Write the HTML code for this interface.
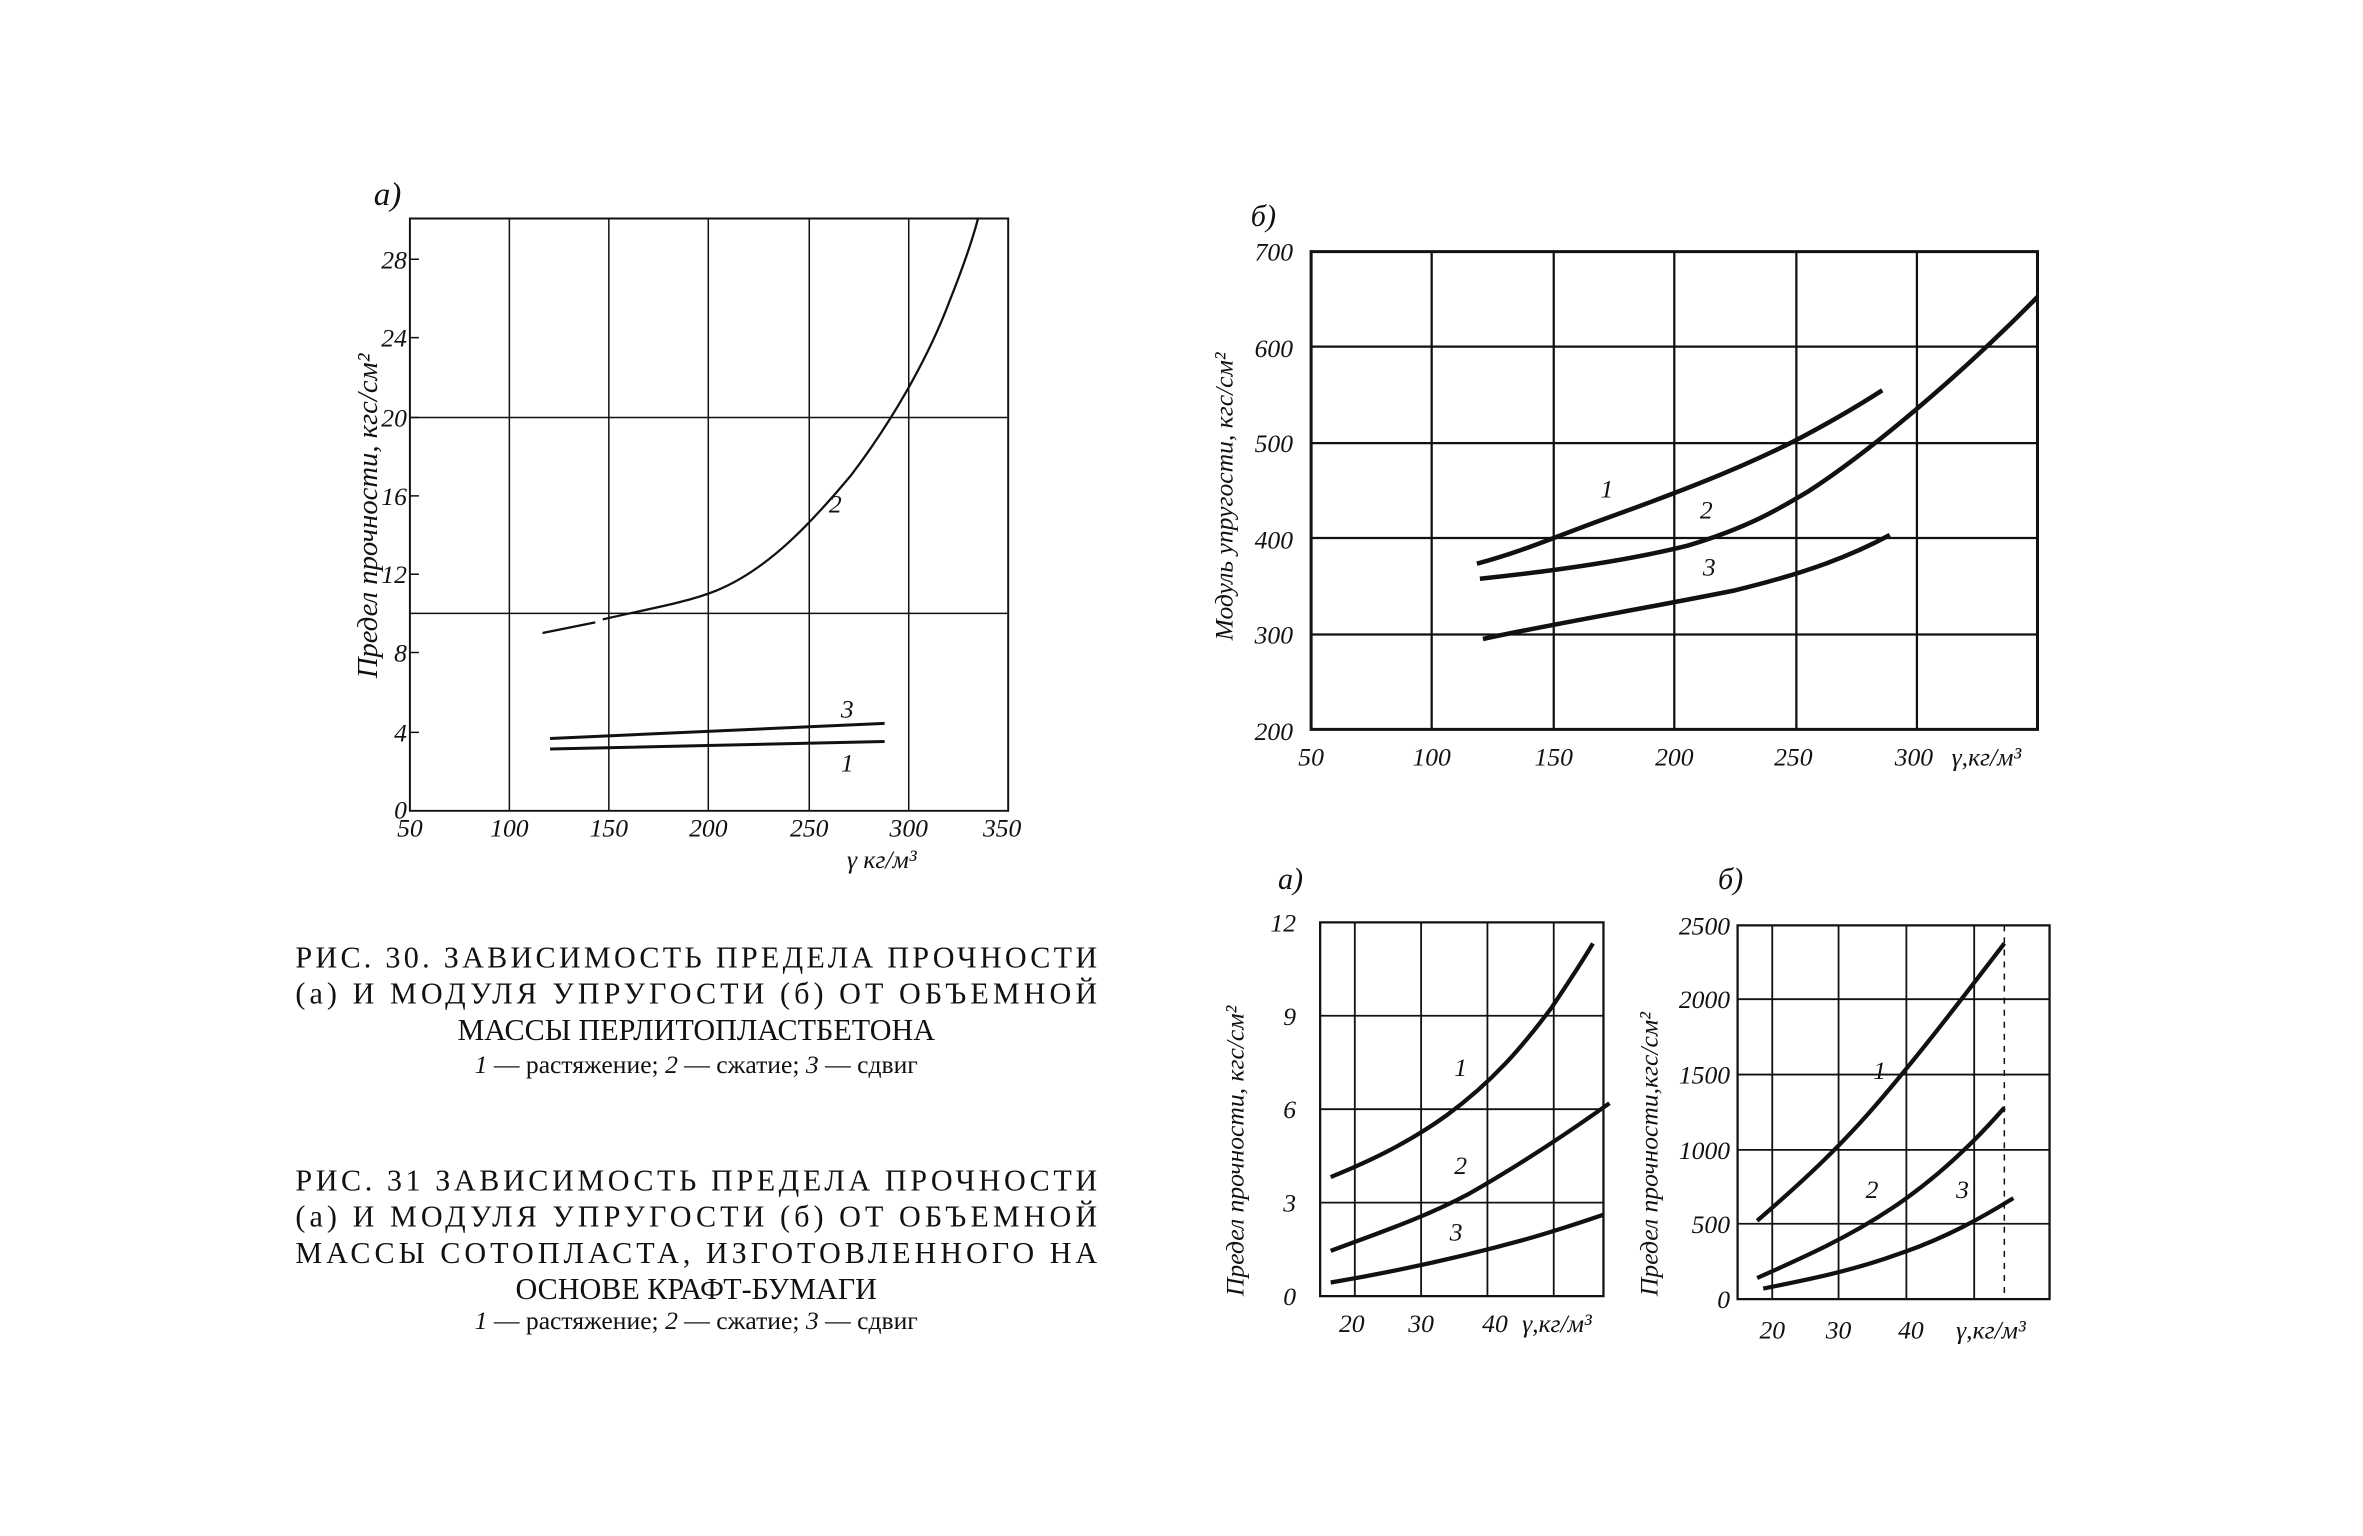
<!DOCTYPE html>
<html><head><meta charset="utf-8"><style>
html,body{margin:0;padding:0;background:#fff;}
svg{display:block}
text{font-family:"Liberation Serif",serif;fill:#111}
.i{font-style:italic;font-family:"Liberation Sans",sans-serif}
</style></head><body>
<svg width="2363" height="1536" viewBox="0 0 1568 1019.2" preserveAspectRatio="none" xmlns="http://www.w3.org/2000/svg">
<g stroke="#111" fill="none">
<path d="M272 145V538H669V145Z" stroke-width="1.3"/>
<path d="M338 145V538M404 145V538M470 145V538M537 145V538M603 145V538M272 277H669M272 407H669" stroke-width="1"/>
<path d="M272 172h6M272 224h6M272 277h6M272 329h6M272 381h6M272 433h6M272 486h6" stroke-width="1"/>
<path d="M360 420L395 413M400 411 C430 404 455 400 475 392 C510 378 540 345 565 315 C590 282 615 240 630 200 C640 175 645 160 649 145" stroke-width="1.5"/>
<path d="M365 490L587 480M365 497L587 492" stroke-width="2"/>
<path d="M870 167V484H1352V167Z" stroke-width="2"/>
<path d="M950 167V484M1031 167V484M1111 167V484M1192 167V484M1272 167V484M870 230H1352M870 294H1352M870 357H1352M870 421H1352" stroke-width="1.5"/>
<path d="M980 374 C1010 366 1030 357 1060 346 C1110 328 1150 313 1190 293 C1215 280 1235 268 1249 259" stroke-width="3"/>
<path d="M982 384 C1030 379 1080 372 1120 362 C1160 350 1180 338 1200 326 C1240 300 1300 250 1352 197" stroke-width="3"/>
<path d="M984 424 C1030 414 1090 404 1150 392 C1200 380 1230 368 1254 355" stroke-width="3"/>
<path d="M876 612V860H1064V612Z" stroke-width="1.5"/>
<path d="M899 612V860M943 612V860M987 612V860M1031 612V860M876 674H1064M876 736H1064M876 798H1064" stroke-width="1.2"/>
<path d="M883 781 C910 770 935 758 960 740 C990 718 1010 695 1030 668 C1042 650 1050 638 1057 626" stroke-width="2.8"/>
<path d="M883 830 C915 818 945 808 975 792 C1010 772 1040 752 1068 732" stroke-width="2.8"/>
<path d="M883 851 C930 843 970 834 1010 823 C1035 816 1052 810 1064 806" stroke-width="2.8"/>
<path d="M1153 614V862H1360V614Z" stroke-width="1.5"/>
<path d="M1176 614V862M1220 614V862M1265 614V862M1310 614V862M1153 663H1360M1153 713H1360M1153 763H1360M1153 812H1360" stroke-width="1.2"/>
<path d="M1330 614V862" stroke-width="1" stroke-dasharray="4 4"/>
<path d="M1166 810 C1195 785 1220 762 1245 733 C1275 698 1300 665 1330 626" stroke-width="2.8"/>
<path d="M1166 848 C1195 835 1225 822 1255 802 C1285 782 1310 758 1330 735" stroke-width="2.8"/>
<path d="M1170 855 C1200 849 1230 843 1260 832 C1290 822 1315 808 1336 795" stroke-width="2.8"/>
</g>
<g class="i" font-size="17">
<text x="248" y="136" font-size="22">a)</text>
<g text-anchor="end"><text x="270" y="178">28</text><text x="270" y="230">24</text><text x="270" y="283">20</text><text x="270" y="335">16</text><text x="270" y="387">12</text><text x="270" y="439">8</text><text x="270" y="492">4</text><text x="270" y="543">0</text></g>
<g text-anchor="middle"><text x="272" y="555">50</text><text x="338" y="555">100</text><text x="404" y="555">150</text><text x="470" y="555">200</text><text x="537" y="555">250</text><text x="603" y="555">300</text><text x="665" y="555">350</text></g>
<text x="562" y="576">γ кг/м³</text>
<text x="550" y="340">2</text><text x="558" y="476">3</text><text x="558" y="512">1</text>
<text transform="translate(250,450) rotate(-90)" font-size="19">Предел прочности, кгс/см²</text>
<text x="830" y="150" font-size="20">б)</text>
<g text-anchor="end"><text x="858" y="173">700</text><text x="858" y="237">600</text><text x="858" y="300">500</text><text x="858" y="364">400</text><text x="858" y="427">300</text><text x="858" y="491">200</text></g>
<g text-anchor="middle"><text x="870" y="508">50</text><text x="950" y="508">100</text><text x="1031" y="508">150</text><text x="1111" y="508">200</text><text x="1190" y="508">250</text><text x="1270" y="508">300</text></g>
<text x="1295" y="508">γ,кг/м³</text>
<text x="1062" y="330">1</text><text x="1128" y="344">2</text><text x="1130" y="382">3</text>
<text transform="translate(818,425) rotate(-90)" font-size="17">Модуль упругости, кгс/см²</text>
<text x="848" y="590" font-size="20">a)</text>
<g text-anchor="end"><text x="860" y="618">12</text><text x="860" y="680">9</text><text x="860" y="742">6</text><text x="860" y="804">3</text><text x="860" y="866">0</text></g>
<g text-anchor="middle"><text x="897" y="884">20</text><text x="943" y="884">30</text><text x="992" y="884">40</text></g>
<text x="1010" y="884">γ,кг/м³</text>
<text x="965" y="714">1</text><text x="965" y="779">2</text><text x="962" y="823">3</text>
<text transform="translate(825,860) rotate(-90)" font-size="17">Предел прочности, кгс/см²</text>
<text x="1140" y="590" font-size="20">б)</text>
<g text-anchor="end"><text x="1148" y="620">2500</text><text x="1148" y="669">2000</text><text x="1148" y="719">1500</text><text x="1148" y="769">1000</text><text x="1148" y="818">500</text><text x="1148" y="868">0</text></g>
<g text-anchor="middle"><text x="1176" y="888">20</text><text x="1220" y="888">30</text><text x="1268" y="888">40</text></g>
<text x="1298" y="888">γ,кг/м³</text>
<text x="1243" y="716">1</text><text x="1238" y="795">2</text><text x="1298" y="795">3</text>
<text transform="translate(1100,860) rotate(-90)" font-size="17">Предел прочности,кгс/см²</text>
</g>
<g font-size="20" text-anchor="middle">
<text x="462" y="642" textLength="532" lengthAdjust="spacing">РИС. 30. ЗАВИСИМОСТЬ ПРЕДЕЛА ПРОЧНОСТИ</text>
<text x="462" y="666" textLength="532" lengthAdjust="spacing">(а) И МОДУЛЯ УПРУГОСТИ (б) ОТ ОБЪЕМНОЙ</text>
<text x="462" y="690">МАССЫ ПЕРЛИТОПЛАСТБЕТОНА</text>
<text x="462" y="712" font-size="17"><tspan font-style="italic">1</tspan> — растяжение; <tspan font-style="italic">2</tspan> — сжатие; <tspan font-style="italic">3</tspan> — сдвиг</text>
<text x="462" y="790" textLength="532" lengthAdjust="spacing">РИС. 31 ЗАВИСИМОСТЬ ПРЕДЕЛА ПРОЧНОСТИ</text>
<text x="462" y="814" textLength="532" lengthAdjust="spacing">(а) И МОДУЛЯ УПРУГОСТИ (б) ОТ ОБЪЕМНОЙ</text>
<text x="462" y="838" textLength="532" lengthAdjust="spacing">МАССЫ СОТОПЛАСТА, ИЗГОТОВЛЕННОГО НА</text>
<text x="462" y="862">ОСНОВЕ КРАФТ-БУМАГИ</text>
<text x="462" y="882" font-size="17"><tspan font-style="italic">1</tspan> — растяжение; <tspan font-style="italic">2</tspan> — сжатие; <tspan font-style="italic">3</tspan> — сдвиг</text>
</g>
</svg>
</body></html>
